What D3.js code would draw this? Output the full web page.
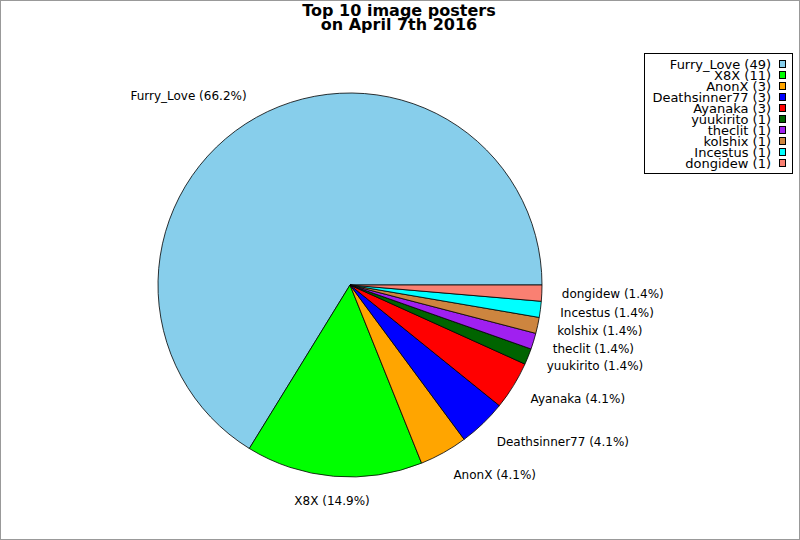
<!DOCTYPE html>
<html>
<meta charset="utf-8">
<head>
<style>
body { margin: 0; background: #fff; }
svg { display: block; font-family: "DejaVu Sans", sans-serif; }
</style>
</head>
<body>
<script src="https://d3js.org/d3.v7.min.js"></script>
<script>

// data
var names = ["Furry_Love", "X8X", "AnonX", "Deathsinner77", "Ayanaka", "yuukirito", "theclit", "kolshix", "Incestus", "dongidew"];
var counts = [49, 11, 3, 3, 3, 1, 1, 1, 1, 1];
var colors = ["#87ceeb", "#00ff00", "#ffa500", "#0000ff", "#ff0000", "#006400", "#a020f0", "#cd853f", "#00ffff", "#fa8072"];
var titleLines = ["Top 10 image posters", "on April 7th 2016"];

var width = 800, height = 540;
var cx = 350, cy = 285, radius = 192;

var svg = d3.select("body").append("svg")
    .attr("width", width)
    .attr("height", height);

svg.append("rect")
    .attr("x", 0.5).attr("y", 0.5)
    .attr("width", width - 1).attr("height", height - 1)
    .style("fill", "#fff")
    .style("stroke", "#999");

// title
svg.append("g").selectAll("text")
  .data(titleLines).enter()
  .append("text")
    .attr("x", 399)
    .attr("y", (d, i) => 16 + i * 14)
    .style("text-anchor", "middle")
    .style("font-weight", "bold")
    .style("font-size", "16px")
    .text(d => d);

var data = names.map((n, i) => ({name: n, count: counts[i], color: colors[i]}));
var total = d3.sum(counts);

// counter-clockwise from 3 o'clock
var pie = d3.pie()
    .sort(null)
    .value(d => d.count)
    .startAngle(Math.PI / 2)
    .endAngle(Math.PI / 2 - 2 * Math.PI);

var arc = d3.arc().innerRadius(0).outerRadius(radius);

var g = svg.append("g")
    .attr("transform", "translate(" + cx + "," + cy + ")");

var arcs = pie(data);

g.selectAll("path")
  .data(arcs).enter()
  .append("path")
    .attr("d", arc)
    .style("fill", d => d.data.color)
    .style("stroke", "#000")
    .style("stroke-width", "0.8px");

// slice labels
var rx = 212, ry = 217;
g.selectAll(".lbl")
  .data(arcs).enter()
  .append("text")
    .attr("class", "lbl")
    .each(function(d) {
      var a = (d.startAngle + d.endAngle) / 2;
      var sx = Math.sin(a), sy = -Math.cos(a);
      d3.select(this)
        .attr("x", sx * rx)
        .attr("y", sy * ry)
        .attr("dy", "0.35em")
        .style("text-anchor", Math.abs(sx) < 0.2 ? "middle" : (sx > 0 ? "start" : "end"));
    })
    .style("font-size", "12px")
    .text(d => d.data.name + " (" + (100 * d.data.count / total).toFixed(1) + "%)");

// legend
var legend = svg.append("g");
legend.append("rect")
    .attr("x", 644.5).attr("y", 53.5)
    .attr("width", 148).attr("height", 120)
    .style("fill", "#fff")
    .style("stroke", "#000");

var rows = legend.selectAll(".row")
  .data(data).enter()
  .append("g")
    .attr("class", "row")
    .attr("transform", (d, i) => "translate(0," + (64 + i * 11) + ")");

rows.append("text")
    .attr("x", 771)
    .attr("dy", "0.35em")
    .style("text-anchor", "end")
    .style("font-size", "13px")
    .text(d => d.name + " (" + d.count + ")");

rows.append("rect")
    .attr("x", 779.5).attr("y", -3.5)
    .attr("width", 6).attr("height", 7)
    .style("fill", d => d.color)
    .style("stroke", "#000");

</script>
</body>
</html>
